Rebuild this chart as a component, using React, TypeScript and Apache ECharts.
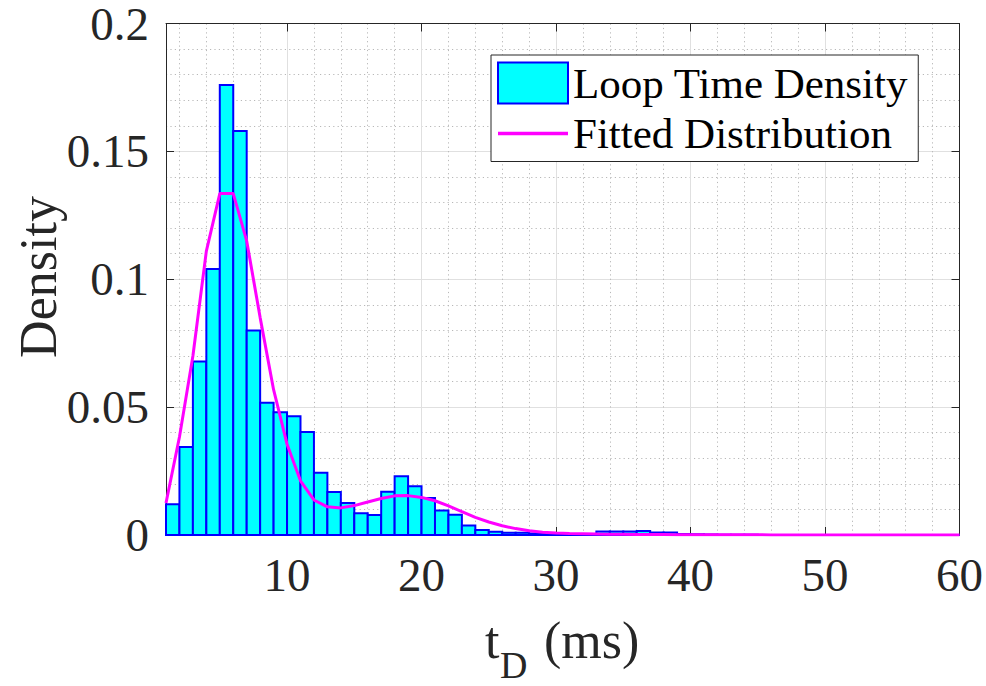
import React, { useEffect, useRef } from "react";
import * as echarts from "echarts";

// Histogram bins (ms): left edges, width 1 ms
const binLefts = [
  1, 2, 3, 4, 5, 6, 7, 8, 9, 10, 11, 12, 13, 14, 15, 16, 17, 18, 19, 20,
  21, 22, 23, 24, 25, 26, 27, 28, 29, 30, 31, 32, 33, 34, 35, 36, 37, 38, 39, 40,
  41, 42, 43, 44, 45, 46, 47, 48, 49, 50, 51, 52, 53, 54, 55, 56, 57, 58, 59,
];
const binWidth = 1;
const binDensity = [
  0.012, 0.0344, 0.0678, 0.104, 0.176, 0.158, 0.08, 0.0517, 0.048, 0.0464,
  0.0403, 0.0243, 0.0168, 0.0125, 0.0085, 0.0078, 0.0169, 0.023, 0.0191, 0.0145,
  0.0096, 0.0079, 0.0037, 0.002, 0.0013, 0.0009, 0.0009, 0.0006, 0.0004, 0.0001,
  0.0001, 0.0001, 0.0014, 0.0014, 0.0014, 0.0016, 0.001, 0.001, 0.0004, 0.0003,
  0.0002, 0.0001, 0.0001, 0.0001, 0, 0, 0, 0, 0, 0,
  0, 0, 0, 0, 0, 0, 0, 0, 0,
];

// Fitted distribution sampled at integer t (ms)
const fitX = [
  1, 2, 3, 4, 5, 6, 7, 8, 9, 10, 11, 12, 13, 14, 15, 16, 17, 18, 19, 20,
  21, 22, 23, 24, 25, 26, 27, 28, 29, 30, 31, 32, 33, 34, 35, 36, 37, 38, 39, 40,
  41, 42, 43, 44, 45, 46, 47, 48, 49, 50, 51, 52, 53, 54, 55, 56, 57, 58, 59, 60,
];
const fitY = [
  0.0125, 0.0383, 0.07, 0.111, 0.1335, 0.1335, 0.115, 0.085, 0.0568, 0.0355,
  0.0212, 0.0137, 0.011, 0.0106, 0.0115, 0.0129, 0.0143, 0.0153, 0.0154, 0.0147,
  0.0134, 0.0114, 0.0091, 0.0069, 0.0051, 0.0036, 0.0025, 0.0017, 0.0011, 0.0008,
  0.0006, 0.0005, 0.0004, 0.0003, 0.0003, 0.0002, 0.0002, 0.0002, 0.0001, 0.0001,
  0.0001, 0.0001, 0.0001, 0.0001, 0.0001, 0, 0, 0, 0, 0,
  0, 0, 0, 0, 0, 0, 0, 0, 0, 0,
];

const xTicks = [10, 20, 30, 40, 50, 60];
const xMinorTicks = [2, 4, 6, 8, 12, 14, 16, 18, 22, 24, 26, 28, 32, 34, 36, 38, 42, 44, 46, 48, 52, 54, 56, 58];
const xMin = 1;
const xMax = 60;
const yMin = 0;
const yMax = 0.2;
const yStep = 0.05;

const FONT = "'Liberation Serif', 'Times New Roman', serif";
const AXIS = "#262626";
const MINOR = { color: "#b8b8b8", width: 1, type: [1.2, 3.2] };

export default function App() {
  const ref = useRef<HTMLDivElement>(null);
  useEffect(() => {
    if (!ref.current) return;
    const chart = echarts.init(ref.current, undefined, { renderer: "svg" });
    const histData = binLefts.map((l, i) => [l, l + binWidth, binDensity[i]]);
    const fitData = fitX.map((x, i) => [x, fitY[i]]);
    const grid = { left: 166, right: 25.5, top: 22, bottom: 151, containLabel: false };
    chart.setOption({
      animation: false,
      backgroundColor: "#ffffff",
      grid,
      legend: {
        orient: "vertical",
        left: 491,
        top: 55,
        padding: [6, 10, 6, 6],
        itemWidth: 70,
        itemHeight: 41,
        itemGap: 6.5,
        selectedMode: false,
        backgroundColor: "#ffffff",
        borderColor: AXIS,
        borderWidth: 1,
        borderRadius: 0,
        textStyle: { fontFamily: FONT, fontSize: 43, color: "#000", lineHeight: 44 },
        data: [
          {
            name: "Loop Time Density",
            icon: "rect",
            itemStyle: { color: "#00ffff", borderColor: "#0000ff", borderWidth: 2 },
          },
          {
            name: "Fitted Distribution",
            icon: "path://M0,0L70,0L70,3.5L0,3.5Z",
            itemStyle: { color: "#ff00ff", borderWidth: 0 },
          },
        ],
      },
      xAxis: [
        {
          type: "value",
          position: "bottom",
          min: xMin,
          max: xMax,
          axisLine: { show: true, onZero: false, lineStyle: { color: AXIS, width: 1 } },
          axisTick: { show: true, inside: true, length: 8, customValues: xTicks, lineStyle: { color: AXIS } },
          axisLabel: {
            show: true,
            customValues: xTicks,
            margin: 16,
            fontFamily: FONT,
            fontSize: 47,
            color: AXIS,
          },
          splitLine: { show: true, lineStyle: { color: "#e0e0e0", width: 1 } },
        },
        {
          type: "value",
          position: "top",
          min: xMin,
          max: xMax,
          axisLine: { show: true, onZero: false, lineStyle: { color: AXIS, width: 1 } },
          axisTick: { show: true, inside: true, length: 8, customValues: xTicks, lineStyle: { color: AXIS } },
          axisLabel: { show: false, customValues: xTicks },
          splitLine: { show: false },
        },
        {
          type: "value",
          position: "bottom",
          min: xMin,
          max: xMax,
          axisLine: { show: false },
          axisTick: { show: false, customValues: xMinorTicks },
          axisLabel: { show: false, customValues: xMinorTicks },
          splitLine: { show: true, lineStyle: MINOR },
          z: 0,
        },
      ],
      yAxis: [
        {
          type: "value",
          position: "left",
          min: yMin,
          max: yMax,
          interval: yStep,
          axisLine: { show: true, onZero: false, lineStyle: { color: AXIS, width: 1 } },
          axisTick: { show: true, inside: true, length: 8, lineStyle: { color: AXIS } },
          axisLabel: {
            show: true,
            margin: 17,
            fontFamily: FONT,
            fontSize: 47,
            lineHeight: 38,
            color: AXIS,
            formatter: (v: number) => String(parseFloat(v.toFixed(2))),
          },
          splitLine: { show: true, lineStyle: { color: "#e0e0e0", width: 1 } },
          minorTick: { show: false, splitNumber: 5 },
          minorSplitLine: { show: true, lineStyle: MINOR },
        },
        {
          type: "value",
          position: "right",
          min: yMin,
          max: yMax,
          interval: yStep,
          axisLine: { show: true, onZero: false, lineStyle: { color: AXIS, width: 1 } },
          axisTick: { show: true, inside: true, length: 8, lineStyle: { color: AXIS } },
          axisLabel: { show: false },
          splitLine: { show: false },
        },
      ],
      series: [
        {
          name: "Loop Time Density",
          type: "custom",
          xAxisIndex: 0,
          yAxisIndex: 0,
          z: 2,
          encode: { x: [0, 1], y: 2 },
          data: histData,
          itemStyle: { color: "#00ffff", borderColor: "#0000ff" },
          renderItem: (params: any, api: any) => {
            const x0 = api.value(0);
            const x1 = api.value(1);
            const h = api.value(2);
            const p0 = api.coord([x0, 0]);
            const p1 = api.coord([x1, h]);
            return {
              type: "rect",
              shape: { x: p0[0], y: p1[1], width: p1[0] - p0[0], height: p0[1] - p1[1] },
              style: { fill: "#00ffff", stroke: "#0000ff", lineWidth: 2 },
            };
          },
        },
        {
          name: "Fitted Distribution",
          type: "line",
          xAxisIndex: 0,
          yAxisIndex: 0,
          z: 3,
          data: fitData,
          symbol: "none",
          showSymbol: false,
          color: "#ff00ff",
          lineStyle: { color: "#ff00ff", width: 3 },
        },
      ],
      graphic: [
        {
          type: "text",
          x: 38,
          y: 277,
          rotation: Math.PI / 2,
          style: {
            text: "Density",
            fontFamily: FONT,
            fontSize: 52,
            fill: AXIS,
            align: "center",
            verticalAlign: "middle",
          },
        },
        {
          type: "group",
          children: [
            {
              type: "text",
              x: 485,
              y: 640,
              style: { text: "t", fontFamily: FONT, fontSize: 52, fill: AXIS, align: "left", verticalAlign: "middle" },
            },
            {
              type: "text",
              x: 500,
              y: 665,
              style: { text: "D", fontFamily: FONT, fontSize: 38, fill: AXIS, align: "left", verticalAlign: "middle" },
            },
            {
              type: "text",
              x: 544,
              y: 640,
              style: { text: "(ms)", fontFamily: FONT, fontSize: 52, fill: AXIS, align: "left", verticalAlign: "middle" },
            },
          ],
        },
      ],
    });
    return () => chart.dispose();
  }, []);
  return (
    <div
      ref={ref}
      style={{ position: "fixed", left: 0, top: 0, width: 986, height: 686 }}
    />
  );
}
